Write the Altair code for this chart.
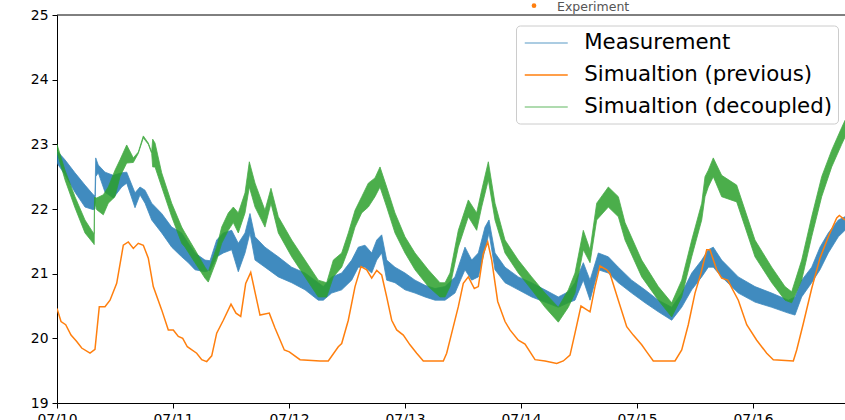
import altair as alt
import pandas as pd

START = pd.Timestamp("2023-07-10")

SERIES = ["Measurement", "Simualtion (previous)", "Simualtion (decoupled)"]
LINE_COLORS = ["#1f77b4", "#ff7f0e", "#2ca02c"]
LEGEND_COLORS = ["#8fbbd9", "#ff7f0e", "#95cf95"]

# Simulation (previous): hours since 07/10 00:00 and temperature
prev_hours = [0.0, 0.83, 1.80, 2.90, 4.08, 5.11, 6.83, 7.86, 8.75, 9.93, 10.97, 12.35,
              13.72, 14.75, 15.79, 16.82, 17.86, 18.89, 19.92, 21.66, 23.03, 24.06,
              25.10, 26.01, 26.96, 28.90, 29.94, 30.97, 32.01, 33.04, 34.41, 36.00,
              37.03, 38.01, 39.04, 40.08, 42.00, 43.92, 45.10, 47.03, 48.06, 50.28,
              54.41, 56.13, 58.20, 58.90, 60.27, 61.66, 62.90, 64.08, 65.11, 66.15,
              67.18, 68.21, 69.25, 70.28, 71.65, 73.03, 74.42, 75.79, 79.93, 80.62,
              81.66, 83.03, 84.06, 85.10, 86.34, 87.17, 88.20, 89.11, 89.94, 91.18,
              92.69, 93.72, 95.44, 96.83, 98.90, 100.97, 103.39, 104.75, 106.14,
              107.17, 108.41, 109.24, 110.28, 111.31, 112.34, 113.73, 114.41, 116.13,
              117.87, 119.23, 120.97, 122.01, 123.37, 127.86, 129.25, 130.61, 132.00,
              133.24, 134.42, 135.10, 135.58, 136.49, 137.52, 138.76, 140.96, 142.70,
              144.77, 146.84, 148.20, 152.34, 153.04, 154.41, 156.14, 157.86, 159.58,
              161.32, 161.86, 163.03]
prev_temp = [20.46, 20.26, 20.21, 20.05, 19.95, 19.85, 19.77, 19.83, 20.49, 20.49, 20.59, 20.85,
             21.44, 21.49, 21.39, 21.47, 21.44, 21.24, 20.80, 20.44, 20.13, 20.13,
             20.03, 20.00, 19.87, 19.77, 19.67, 19.64, 19.73, 20.08, 20.28, 20.53,
             20.39, 20.34, 20.85, 21.02, 20.36, 20.39, 20.16, 19.82, 19.79, 19.67,
             19.65, 19.65, 19.87, 19.92, 20.28, 20.80, 21.11, 21.06, 20.93, 21.05,
             20.98, 20.64, 20.28, 20.13, 20.05, 19.90, 19.77, 19.65, 19.65, 19.77,
             20.08, 20.49, 20.85, 20.95, 20.77, 20.80, 21.31, 21.49, 21.21, 20.57,
             20.26, 20.13, 19.97, 19.91, 19.67, 19.65, 19.61, 19.65, 19.74,
             20.08, 20.50, 20.46, 20.41, 20.80, 21.12, 21.06, 21.00, 20.59,
             20.18, 20.05, 19.90, 19.79, 19.65, 19.65, 19.82, 20.21, 20.70,
             21.01, 21.37, 21.37, 21.26, 21.06, 20.93, 20.90, 20.59, 20.21,
             19.97, 19.77, 19.67, 19.65, 19.82, 20.23, 20.77, 21.24, 21.57,
             21.86, 21.90, 21.83]

# Measurement: noisy signal, drawn as its lower/upper envelope
meas_hours = [0.00, 1.66, 3.72, 5.79, 7.51, 7.86, 8.01, 8.54, 9.93, 11.65, 13.39, 14.42,
              16.14, 17.17, 18.21, 19.59, 21.66, 23.73, 25.80, 27.17, 28.55, 30.62,
              31.66, 33.04, 34.41, 36.14, 37.51, 38.90, 39.93, 40.97, 43.03, 45.79,
              48.56, 51.31, 54.06, 55.10, 56.83, 58.90, 60.97, 62.34, 63.72, 65.11,
              66.15, 67.18, 68.21, 69.93, 72.00, 74.07, 76.14, 78.21, 80.28, 82.34,
              84.41, 85.80, 87.17, 88.55, 89.38, 90.62, 92.69, 95.44, 98.21, 100.97,
              103.72, 105.79, 107.17, 108.89, 110.28, 112.00, 114.07, 116.14, 118.90,
              121.66, 124.41, 127.18, 129.25, 131.32, 133.39, 134.75, 135.78, 137.52,
              140.96, 144.41, 147.87, 151.31, 152.69, 154.07, 156.14, 157.86, 159.58,
              161.65, 163.03]
meas_low = [22.71, 22.53, 22.26, 22.03, 21.99, 22.00, 22.50, 22.56, 22.26, 22.17, 22.34, 22.40,
            22.02, 22.22, 22.09, 21.83, 21.63, 21.41, 21.26, 21.17, 21.06, 21.03,
            21.05, 21.26, 21.32, 21.37, 21.03, 21.32, 21.63, 21.21, 21.10, 20.95,
            20.86, 20.75, 20.59, 20.59, 20.70, 20.75, 20.90, 21.10, 21.10, 21.01,
            21.21, 21.32, 20.90, 20.86, 20.75, 20.70, 20.64, 20.59, 20.59, 20.70,
            21.06, 20.90, 20.95, 21.37, 21.63, 21.06, 20.86, 20.75, 20.64, 20.56,
            20.48, 20.55, 20.59, 20.90, 20.59, 21.06, 21.01, 20.86, 20.70,
            20.55, 20.41, 20.28, 20.48, 20.75, 20.95, 21.10, 21.10, 20.95,
            20.70, 20.56, 20.48, 20.39, 20.36, 20.64, 20.86, 21.06, 21.32,
            21.57, 21.67]
meas_high = [22.90, 22.76, 22.56, 22.37, 22.22, 22.20, 22.79, 22.68, 22.57, 22.52, 22.56, 22.57,
             22.25, 22.34, 22.29, 22.09, 21.93, 21.72, 21.63, 21.47, 21.32, 21.21,
             21.20, 21.52, 21.63, 21.67, 21.47, 21.63, 21.93, 21.57, 21.41, 21.26,
             21.10, 21.01, 20.86, 20.80, 20.95, 21.01, 21.21, 21.41, 21.44, 21.32,
             21.52, 21.60, 21.21, 21.10, 21.01, 20.90, 20.82, 20.77, 20.80, 20.95,
             21.41, 21.21, 21.32, 21.72, 21.83, 21.32, 21.10, 20.95, 20.86, 20.75,
             20.64, 20.72, 20.86, 21.17, 20.90, 21.32, 21.26, 21.10, 20.90,
             20.75, 20.59, 20.48, 20.70, 21.01, 21.21, 21.37, 21.41, 21.21,
             20.95, 20.80, 20.70, 20.59, 20.64, 20.90, 21.10, 21.41, 21.63,
             21.83, 21.88]

# Simulation (decoupled): oscillating signal, drawn as its lower/upper envelope
dec_hours = [0.00, 1.66, 3.72, 5.79, 7.51, 7.70, 7.76, 8.21, 9.58, 10.61, 12.00, 13.03,
             14.42, 15.79, 16.82, 17.86, 18.89, 19.59, 19.80, 20.28, 21.66, 23.73,
             25.80, 26.48, 28.55, 30.62, 31.30, 33.04, 34.07, 35.45, 36.48, 37.51,
             38.90, 39.79, 40.97, 43.03, 44.27, 45.79, 48.56, 51.31, 54.06, 55.79,
             57.17, 58.90, 60.27, 61.66, 63.04, 64.41, 65.79, 66.83, 68.21, 69.93,
             72.00, 74.07, 76.82, 79.24, 80.28, 81.31, 83.03, 85.10, 86.83, 87.86,
             89.24, 90.62, 92.69, 95.44, 98.21, 100.97, 103.72, 105.79, 107.17,
             108.89, 110.28, 111.66, 114.07, 116.14, 117.52, 120.97, 124.41, 127.18,
             129.25, 131.32, 133.39, 134.07, 134.75, 135.78, 137.52, 140.62, 144.41,
             147.87, 150.62, 152.00, 154.07, 156.14, 158.21, 160.28, 162.35, 163.03]
dec_low = [22.88, 22.45, 22.02, 21.63, 21.47, 21.45, 22.12, 21.99, 21.91, 22.09, 22.19, 22.50,
           22.71, 22.72, 22.86, 23.10, 23.00, 22.86, 22.65, 22.65, 22.34, 21.88,
           21.47, 21.41, 21.17, 20.93, 20.87, 21.21, 21.47, 21.67, 21.79, 21.63,
           21.94, 22.34, 22.03, 21.72, 22.09, 21.63, 21.26, 20.95, 20.64, 20.64,
           20.95, 21.10, 21.37, 21.72, 21.94, 22.03, 22.19, 22.34, 22.03, 21.63,
           21.32, 21.06, 20.80, 20.64, 20.64, 20.80, 21.41, 21.88, 21.67, 22.03,
           22.45, 21.83, 21.32, 21.01, 20.75, 20.48, 20.25, 20.48, 20.70,
           21.37, 21.17, 21.83, 22.03, 21.88, 21.52, 20.95, 20.59, 20.33,
           20.64, 21.26, 21.83, 22.19, 22.34, 22.50, 22.19, 22.11, 21.26,
           20.86, 20.59, 20.55, 20.90, 21.57, 22.19, 22.65, 23.00, 23.11]
dec_high = [23.00, 22.60, 22.19, 21.83, 21.63, 21.62, 22.18, 22.17, 22.22, 22.34, 22.60, 22.76,
            22.99, 22.79, 22.88, 23.13, 23.02, 22.88, 23.08, 23.02, 22.56, 22.09,
            21.72, 21.63, 21.37, 21.10, 21.03, 21.41, 21.72, 21.94, 22.03, 21.94,
            22.25, 22.73, 22.40, 21.98, 22.32, 21.88, 21.52, 21.21, 20.90, 20.86,
            21.21, 21.32, 21.63, 21.98, 22.19, 22.40, 22.48, 22.65, 22.34, 21.94,
            21.57, 21.32, 21.06, 20.86, 20.86, 21.01, 21.67, 22.14, 21.94, 22.29,
            22.73, 22.09, 21.52, 21.21, 20.95, 20.70, 20.48, 20.75, 21.01,
            21.67, 21.37, 22.09, 22.34, 22.19, 21.79, 21.21, 20.80, 20.55,
            20.90, 21.52, 22.09, 22.50, 22.60, 22.79, 22.52, 22.37, 21.52,
            21.10, 20.80, 20.72, 21.21, 21.88, 22.50, 22.91, 23.26, 23.37]

day_ticks = [10, 11, 12, 13, 14, 15, 16]
y_ticks = [19, 20, 21, 22, 23, 24, 25]


def stamp(hours):
    return START + pd.to_timedelta(hours, unit="h")


prev_df = pd.DataFrame({"time": stamp(prev_hours), "temp": prev_temp,
                        "series": SERIES[1]})
meas_df = pd.DataFrame({"time": stamp(meas_hours), "low": meas_low, "high": meas_high})
dec_df = pd.DataFrame({"time": stamp(dec_hours), "low": dec_low, "high": dec_high})
note_df = pd.DataFrame({"label": ["Experiment"]})

W, H = 788, 388

x_scale = alt.Scale(domain=[alt.DateTime(year=2023, month=7, date=10),
                            alt.DateTime(year=2023, month=7, date=16, hours=19, minutes=2)])
y_scale = alt.Scale(domain=[19, 25], nice=False, zero=False)

x_axis = alt.Axis(title=None, format="%m/%d", labelFlush=False, grid=False,
                  values=[alt.DateTime(year=2023, month=7, date=d) for d in day_ticks])
y_axis = alt.Axis(title=None, values=y_ticks, grid=False)

x_enc = alt.X("time:T", scale=x_scale, axis=x_axis)

meas = alt.Chart(meas_df).mark_area(
    color=LINE_COLORS[0], opacity=0.85, stroke=LINE_COLORS[0], strokeWidth=0.8, clip=True
).encode(x=x_enc, y=alt.Y("low:Q", scale=y_scale, axis=y_axis), y2="high:Q")

# legend swatch: a short horizontal stroke (path units are scaled by sqrt(size)/2)
prev = alt.Chart(prev_df).mark_line(strokeWidth=1.5, clip=True).encode(
    x=x_enc,
    y=alt.Y("temp:Q", scale=y_scale, axis=y_axis),
    color=alt.Color(
        "series:N",
        scale=alt.Scale(domain=SERIES, range=LEGEND_COLORS),
        legend=alt.Legend(
            title=None, orient="none", legendX=459, legendY=10.5,
            symbolType="M-2,0H2", symbolSize=462, symbolStrokeWidth=1.3,
            symbolOffset=12.75,
            labelFont="DejaVu Sans", labelFontSize=21.3, labelColor="black",
            labelLimit=400, labelOffset=26.5, rowPadding=10, padding=6,
            fillColor="rgba(255,255,255,0.8)", strokeColor="#cccccc", cornerRadius=4,
        ),
    ),
)

dec = alt.Chart(dec_df).mark_area(
    color=LINE_COLORS[2], opacity=0.85, stroke=LINE_COLORS[2], strokeWidth=0.8, clip=True
).encode(x=x_enc, y=alt.Y("low:Q", scale=y_scale, axis=y_axis), y2="high:Q")

# top frame line
top_line = alt.Chart(note_df).mark_rule(color="black", strokeWidth=1).encode(
    x=alt.value(0), x2=alt.value(W), y=alt.value(0)
)

# small marker + caption above the frame
note_dot = alt.Chart(note_df).mark_point(filled=True, color="#ff7f0e", size=22, opacity=1).encode(
    x=alt.value(477), y=alt.value(-9.3)
)
note_text = alt.Chart(note_df).mark_text(
    align="left", baseline="alphabetic", fontSize=12.5, font="DejaVu Sans", color="#555555"
).encode(x=alt.value(500), y=alt.value(-4), text="label:N")

chart = alt.layer(meas, prev, dec, top_line, note_dot, note_text).properties(
    width=W, height=H,
    padding={"left": 57, "top": 15, "right": 0, "bottom": 17},
    autosize=alt.AutoSizeParams(type="none"),
).configure_view(stroke=None).configure_axis(
    labelFont="DejaVu Sans", labelFontSize=13.9, labelColor="black",
    domainColor="black", tickColor="black", tickSize=5, labelPadding=4,
    domainWidth=1, tickWidth=1,
)

chart.save("out.html", embed_options={"renderer": "svg", "actions": False})
